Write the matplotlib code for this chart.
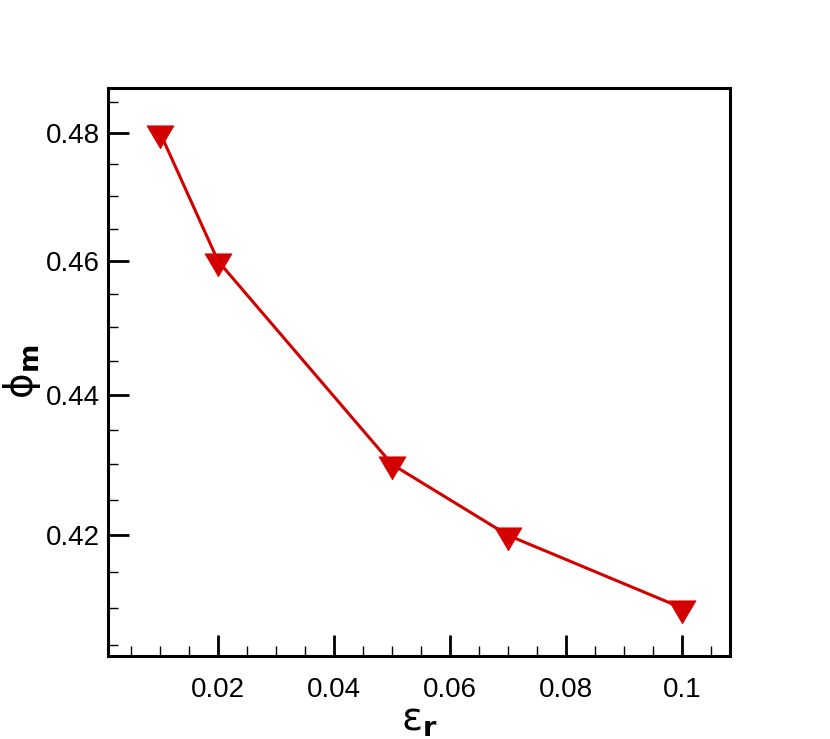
import numpy as np
import matplotlib.pyplot as plt
from matplotlib.path import Path
from matplotlib.ticker import FixedLocator, NullFormatter

# data
eps_r = [0.01, 0.02, 0.05, 0.07, 0.1]
phi_m = [0.48, 0.46, 0.43, 0.42, 0.41]

x_major = [0.02, 0.04, 0.06, 0.08, 0.1]
x_labels = ['0.02', '0.04', '0.06', '0.08', '0.1']
y_major = [0.42, 0.44, 0.46, 0.48]
y_labels = ['0.42', '0.44', '0.46', '0.48']

plt.rcParams['font.family'] = ['Liberation Sans', 'DejaVu Sans']
plt.rcParams['mathtext.fontset'] = 'dejavusans'

# down triangle centred on its centroid (like the original plotting tool)
tri = Path([(-0.62, 0.35), (0.62, 0.35), (0.0, -0.7), (-0.62, 0.35)],
           [Path.MOVETO, Path.LINETO, Path.LINETO, Path.CLOSEPOLY])

fig = plt.figure(figsize=(8.3, 7.39), dpi=100)
ax = fig.add_axes([0.130, 0.112, 0.750, 0.769])

ax.plot(eps_r, phi_m, ls='-', lw=2.2, color='#d40000',
        marker=tri, ms=22, mec='#d40000', mfc='#d40000', mew=0.5)

ax.set_yscale('log')
ax.set_xlim(0.001, 0.1083)
ax.set_ylim(0.4035, 0.4872)

ax.xaxis.set_major_locator(FixedLocator(x_major))
ax.set_xticklabels(x_labels)
ax.xaxis.set_minor_locator(FixedLocator(np.arange(0.005, 0.108, 0.005)))
ax.xaxis.set_minor_formatter(NullFormatter())

ax.yaxis.set_major_locator(FixedLocator(y_major))
ax.set_yticklabels(y_labels)
ax.yaxis.set_minor_locator(FixedLocator(np.arange(0.405, 0.487, 0.005)))
ax.yaxis.set_minor_formatter(NullFormatter())

ax.tick_params(which='major', direction='in', length=15, width=2,
               labelsize=20, top=False, right=False)
ax.tick_params(axis='x', which='major', pad=15)
ax.tick_params(axis='y', which='major', pad=6)
ax.tick_params(which='minor', direction='in', length=7, width=1,
               top=False, right=False)

for s in ax.spines.values():
    s.set_linewidth(2.2)

ax.set_xlabel(r'$\mathrm{\varepsilon}_{\mathbf{r}}$', fontsize=28, labelpad=0)
ax.set_ylabel(r'$\mathrm{\phi}_{\mathbf{m}}$', fontsize=28, labelpad=2)

fig.savefig('out.png', dpi=100)
